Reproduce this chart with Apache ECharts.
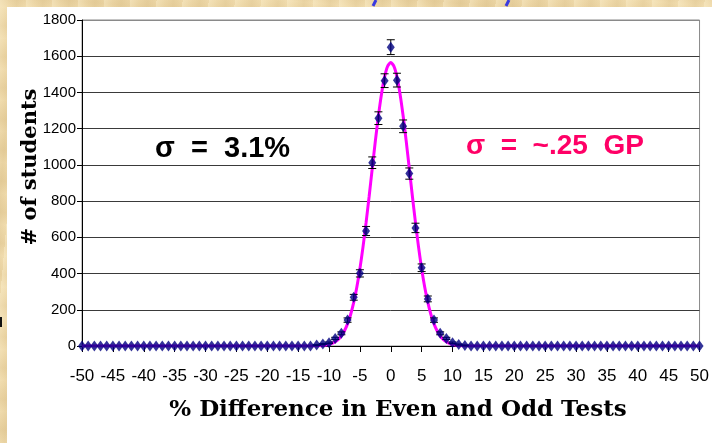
<!DOCTYPE html>
<html>
<head>
<meta charset="utf-8">
<script src="https://cdn.jsdelivr.net/npm/echarts@6/dist/echarts.min.js"></script>
<style>
  html, body { margin: 0; padding: 0; }
  body {
    width: 712px; height: 443px; overflow: hidden; position: relative;
    background-color: #ecd6a6;
    background-image:
      repeating-linear-gradient(95deg, rgba(255,245,215,0.35) 0px, rgba(255,245,215,0) 9px, rgba(200,170,110,0.18) 17px, rgba(255,245,215,0) 26px),
      repeating-linear-gradient(5deg, rgba(255,240,200,0.25) 0px, rgba(210,180,120,0.15) 13px, rgba(255,240,200,0.2) 31px);
  }
  #paper { position: absolute; left: 7px; top: 7px; width: 705px; height: 436px; background: #ffffff; }
  #chart { position: absolute; left: 0; top: 0; width: 712px; height: 443px; }
</style>
</head>
<body>
<div id="paper"></div>
<div id="chart"></div>
<script>
// x positions (% difference) of the measured points
const pctDiff = [
  -50,-49,-48,-47,-46,-45,-44,-43,-42,-41,-40,-39,-38,-37,-36,-35,-34,-33,-32,-31,
  -30,-29,-28,-27,-26,-25,-24,-23,-22,-21,-20,-19,-18,-17,-16,-15,-14,-13,-12,-11,
  -10,-9,-8,-7,-6,-5,-4,-3,-2,-1,0,1,2,3,4,5,6,7,8,9,10,
  11,12,13,14,15,16,17,18,19,20,21,22,23,24,25,26,27,28,29,30,
  31,32,33,34,35,36,37,38,39,40,41,42,43,44,45,46,47,48,49,50
];
// number of students at each % difference
const students = [
  0,0,0,0,0,0,0,0,0,0,0,0,0,0,0,0,0,0,0,0,
  0,0,0,0,0,0,0,0,0,0,0,0,0,0,0,0,0,0,5,11,
  18,42,70,143,269,401,635,1012,1258,1465,1650,1468,1213,952,652,432,260,143,70,42,18,
  8,3,0,0,0,0,0,0,0,0,0,0,0,0,0,0,0,0,0,0,
  0,0,0,0,0,0,0,0,0,0,0,0,0,0,0,0,0,0,0,0
];
// error bar half-heights
const errors = [
  0,0,0,0,0,0,0,0,0,0,0,0,0,0,0,0,0,0,0,0,
  0,0,0,0,0,0,0,0,0,0,0,0,0,0,0,0,0,0,2,3,
  4,6,8,12,16,20,25,32,35,38,41,38,35,31,26,21,16,12,8,6,4,
  3,2,0,0,0,0,0,0,0,0,0,0,0,0,0,0,0,0,0,0,
  0,0,0,0,0,0,0,0,0,0,0,0,0,0,0,0,0,0,0,0
];
// fitted gaussian curve
const curveX = [
  -50,-14,-13,-12,-11.5,-11,-10.5,-10,-9.5,-9,-8.5,-8,-7.5,-7,-6.5,-6,-5.5,-5,-4.5,-4,-3.5,-3,-2.5,-2,-1.5,-1,-0.5,
  0,
  0.5,1,1.5,2,2.5,3,3.5,4,4.5,5,5.5,6,6.5,7,7.5,8,8.5,9,9.5,10,10.5,11,11.5,12,13,14,50
];
const curveY = [
  0,0,0.3,1,1.6,3,5,9,14,23,36,56,84,122,174,241,324,426,546,681,827,980,1131,1271,1392,1486,1545,
  1565,
  1545,1486,1392,1271,1131,980,827,681,546,426,324,241,174,122,84,56,36,23,14,9,5,3,1.6,1,0.3,0,0
];
const xTicks = { min: -50, max: 50, interval: 5 };
const yTicks = { min: 0, max: 1800, interval: 200 };
const xTitle = '% Difference in Even and Odd Tests';
const yTitle = '# of students';
const noteLeft = 'σ  =  3.1%';
const noteRight = 'σ  =  ~.25  GP';

const pts = pctDiff.map((x, i) => [x, students[i]]);
const errPts = pctDiff.map((x, i) => [x, students[i], errors[i]]).filter(d => d[2] > 0);
const curve = curveX.map((x, i) => [x, curveY[i]]);

const sans = "'Liberation Sans', Arial, sans-serif";
const serif = "'DejaVu Serif', 'Liberation Serif', serif";

const chart = echarts.init(document.getElementById('chart'), null, { renderer: 'canvas' });
chart.setOption({
  backgroundColor: 'transparent',
  animation: false,
  grid: { left: 82, right: 12, top: 20, bottom: 97, show: true, borderColor: '#8a8a8a', borderWidth: 1, backgroundColor: '#ffffff' },
  xAxis: {
    type: 'value', min: xTicks.min, max: xTicks.max, interval: xTicks.interval,
    axisLine: { show: true, onZero: false, lineStyle: { color: '#000', width: 1 } },
    axisTick: { show: true, length: 6, inside: false, lineStyle: { color: '#000' } },
    axisLabel: { margin: 22, fontFamily: sans, fontSize: 17, color: '#000', formatter: v => String(v) },
    splitLine: { show: false }
  },
  yAxis: {
    type: 'value', min: yTicks.min, max: yTicks.max, interval: yTicks.interval,
    axisLine: { show: true, onZero: false, lineStyle: { color: '#000', width: 1 } },
    axisTick: { show: true, length: 5, inside: false, lineStyle: { color: '#000' } },
    axisLabel: { margin: 6, fontFamily: sans, fontSize: 15, color: '#000', formatter: v => String(v) },
    splitLine: { show: true, lineStyle: { color: ['#3a3a3a','#3a3a3a','#3a3a3a','#3a3a3a','#3a3a3a','#3a3a3a','#3a3a3a','#3a3a3a','#3a3a3a','#8a8a8a'], width: 1 } }
  },
  graphic: [
    { type: 'text', x: 398, y: 410, style: { text: xTitle, fontFamily: serif, fontWeight: 'bold', fontSize: 23, fill: '#000', align: 'center', verticalAlign: 'middle' } },
    { type: 'text', x: 31, y: 167, rotation: Math.PI / 2, style: { text: yTitle, fontFamily: serif, fontWeight: 'bold', fontSize: 21, fill: '#000', align: 'center', verticalAlign: 'middle' } },
    { type: 'text', left: 155, top: 134, style: { text: noteLeft, fontFamily: sans, fontWeight: 'bold', fontSize: 29, fill: '#000' } },
    { type: 'text', left: 466, top: 132, style: { text: noteRight, fontFamily: sans, fontWeight: 'bold', fontSize: 28, fill: '#ff0066' } },
    { type: 'line', shape: { x1: 376, y1: 0, x2: 373, y2: 6 }, style: { stroke: '#3a3adf', lineWidth: 3 } },
    { type: 'line', shape: { x1: 509, y1: 0, x2: 506, y2: 6 }, style: { stroke: '#3a3adf', lineWidth: 3 } },
    { type: 'rect', shape: { x: 0, y: 317, width: 2, height: 10 }, style: { fill: '#111' } }
  ],
  series: [
    {
      type: 'line', data: curve, smooth: 0.25, showSymbol: false, z: 2,
      lineStyle: { color: '#ff00ff', width: 3 }
    },
    {
      type: 'custom', data: errPts, z: 3,
      renderItem: function (params, api) {
        const x = api.value(0), y = api.value(1), e = api.value(2);
        const top = api.coord([x, y + e]);
        const bot = api.coord([x, y - e]);
        const w = 4;
        const st = { stroke: '#000', lineWidth: 1 };
        return {
          type: 'group',
          children: [
            { type: 'line', shape: { x1: top[0], y1: top[1], x2: bot[0], y2: bot[1] }, style: st },
            { type: 'line', shape: { x1: top[0] - w, y1: top[1], x2: top[0] + w, y2: top[1] }, style: st },
            { type: 'line', shape: { x1: bot[0] - w, y1: bot[1], x2: bot[0] + w, y2: bot[1] }, style: st }
          ]
        };
      }
    },
    {
      type: 'scatter', data: pts, symbol: 'diamond', symbolSize: [8, 11], z: 4,
      itemStyle: { color: '#000080' }
    }
  ]
});
</script>
</body>
</html>
